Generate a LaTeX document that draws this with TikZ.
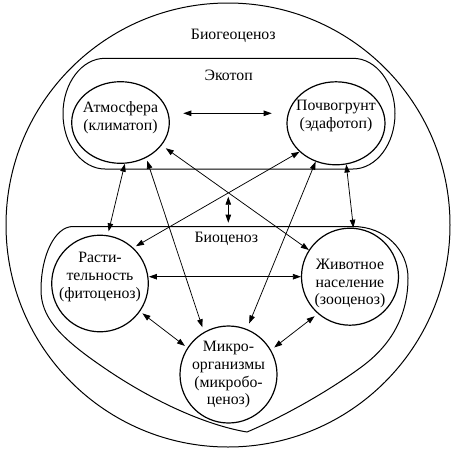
\documentclass[tikz,border=0pt]{standalone}
\usepackage{fontspec}
\setmainfont{Liberation Serif}
\newfontfamily\tnrfont{Liberation Serif}
\usetikzlibrary{arrows.meta,shapes.geometric}
\begin{document}
\begin{tikzpicture}[x=1pt,y=-1pt,
  txt/.style={font=\tnrfont\fontsize{15.8}{17.8}\selectfont, align=center, inner sep=0pt},
  circ/.style={circle, draw, line width=1.2pt, minimum size=#1, inner sep=0pt},
  ell/.style={ellipse, draw, line width=1.2pt, inner sep=0pt},
  bound/.style={draw, line width=1pt},
  link/.style={{Triangle[length=8pt,width=5.5pt]}-{Triangle[length=8pt,width=5.5pt]}, line width=0.75pt},
]
\useasboundingbox[fill=white] (0,0) rectangle (458,453);

% outer circle
\draw[bound] (228,225) circle[radius=222pt];
\node[txt] (bgc) at (233.3,35.5) {Биогеоценоз};

% ecotop
\draw[bound] (105,58.3) -- (353,58.3)
  .. controls (376.2,58.3) and (395,83.1) .. (395,113.65)
  .. controls (395,144.2) and (376.2,169) .. (353,169)
  -- (105,169)
  .. controls (81.8,169) and (63,144.2) .. (63,113.65)
  .. controls (63,83.1) and (81.8,58.3) .. (105,58.3) -- cycle;
\node[txt] (eko) at (228.7,75) {Экотоп};

% biocenosis
\draw[bound] (73,226.5) -- (353,226.5)
  .. controls (385,226.5) and (408,250) .. (408,278)
  .. controls (408,315) and (392,345) .. (360,368)
  .. controls (330,390) and (285,416) .. (247,432)
  .. controls (205,425) and (150,400) .. (100,365)
  .. controls (58,336) and (41,316) .. (41,290)
  .. controls (41,255) and (55,226.5) .. (73,226.5) -- cycle;
\node[txt] (bio) at (226.3,239) {Биоценоз};

% main nodes
\node[ell, minimum width=97.6pt, minimum height=81.6pt] (atm) at (120.5,122.5) {};
\node[txt] (atmT) at (120.5,117.5) {Атмосфера\\(климатоп)};
\node[ell, minimum width=98pt, minimum height=83pt] (poch) at (336,123.3) {};
\node[txt] (pochT) at (336,116) {Почвогрунт\\(эдафотоп)};
\node[circ=96.6pt] (rast) at (100,283.5) {};
\node[txt] (rastT) at (100,277) {Расти-\\тельность\\(фитоценоз)};
\node[circ=97pt] (zhiv) at (350,276.7) {};
\node[txt] (zhivT) at (350,283.7) {Животное\\население\\(зооценоз)};
\node[circ=97pt] (mikro) at (228.5,374.5) {};
\node[txt] (mikroT) at (228.5,374.7) {Микро-\\организмы\\(микробо-\\ценоз)};

% free arrows
\coordinate (h1) at (183.3,113.3);
\coordinate (h2) at (271.7,113.3);
\coordinate (v1) at (228.3,196.7);
\coordinate (v2) at (228.3,222.7);
\draw[link] (h1) -- (h2);
\draw[link] (v1) -- (v2);

% connectors
\draw[link, shorten >=4pt] (atm.-84) -- (rast.81);
\draw[link, shorten <=3pt, shorten >=5pt] (atm.-54) -- (mikro.120);
\draw[link, shorten <=5pt] (atm.-29) -- (zhiv.147);
\draw[link, shorten >=3pt] (poch.218) -- (rast.47);
\draw[link, shorten >=6pt] (poch.-118) -- (mikro.68.5);
\draw[link] (poch.-76) -- (zhiv.86);
\draw[link] (zhiv.west -| rast.east) -- (zhiv.west);
\draw[link, shorten <=3pt, shorten >=3pt] (rast.-35) -- (mikro.147);
\draw[link, shorten <=4pt, shorten >=4pt] (zhiv.-131) -- (mikro.30);
\end{tikzpicture}
\end{document}
